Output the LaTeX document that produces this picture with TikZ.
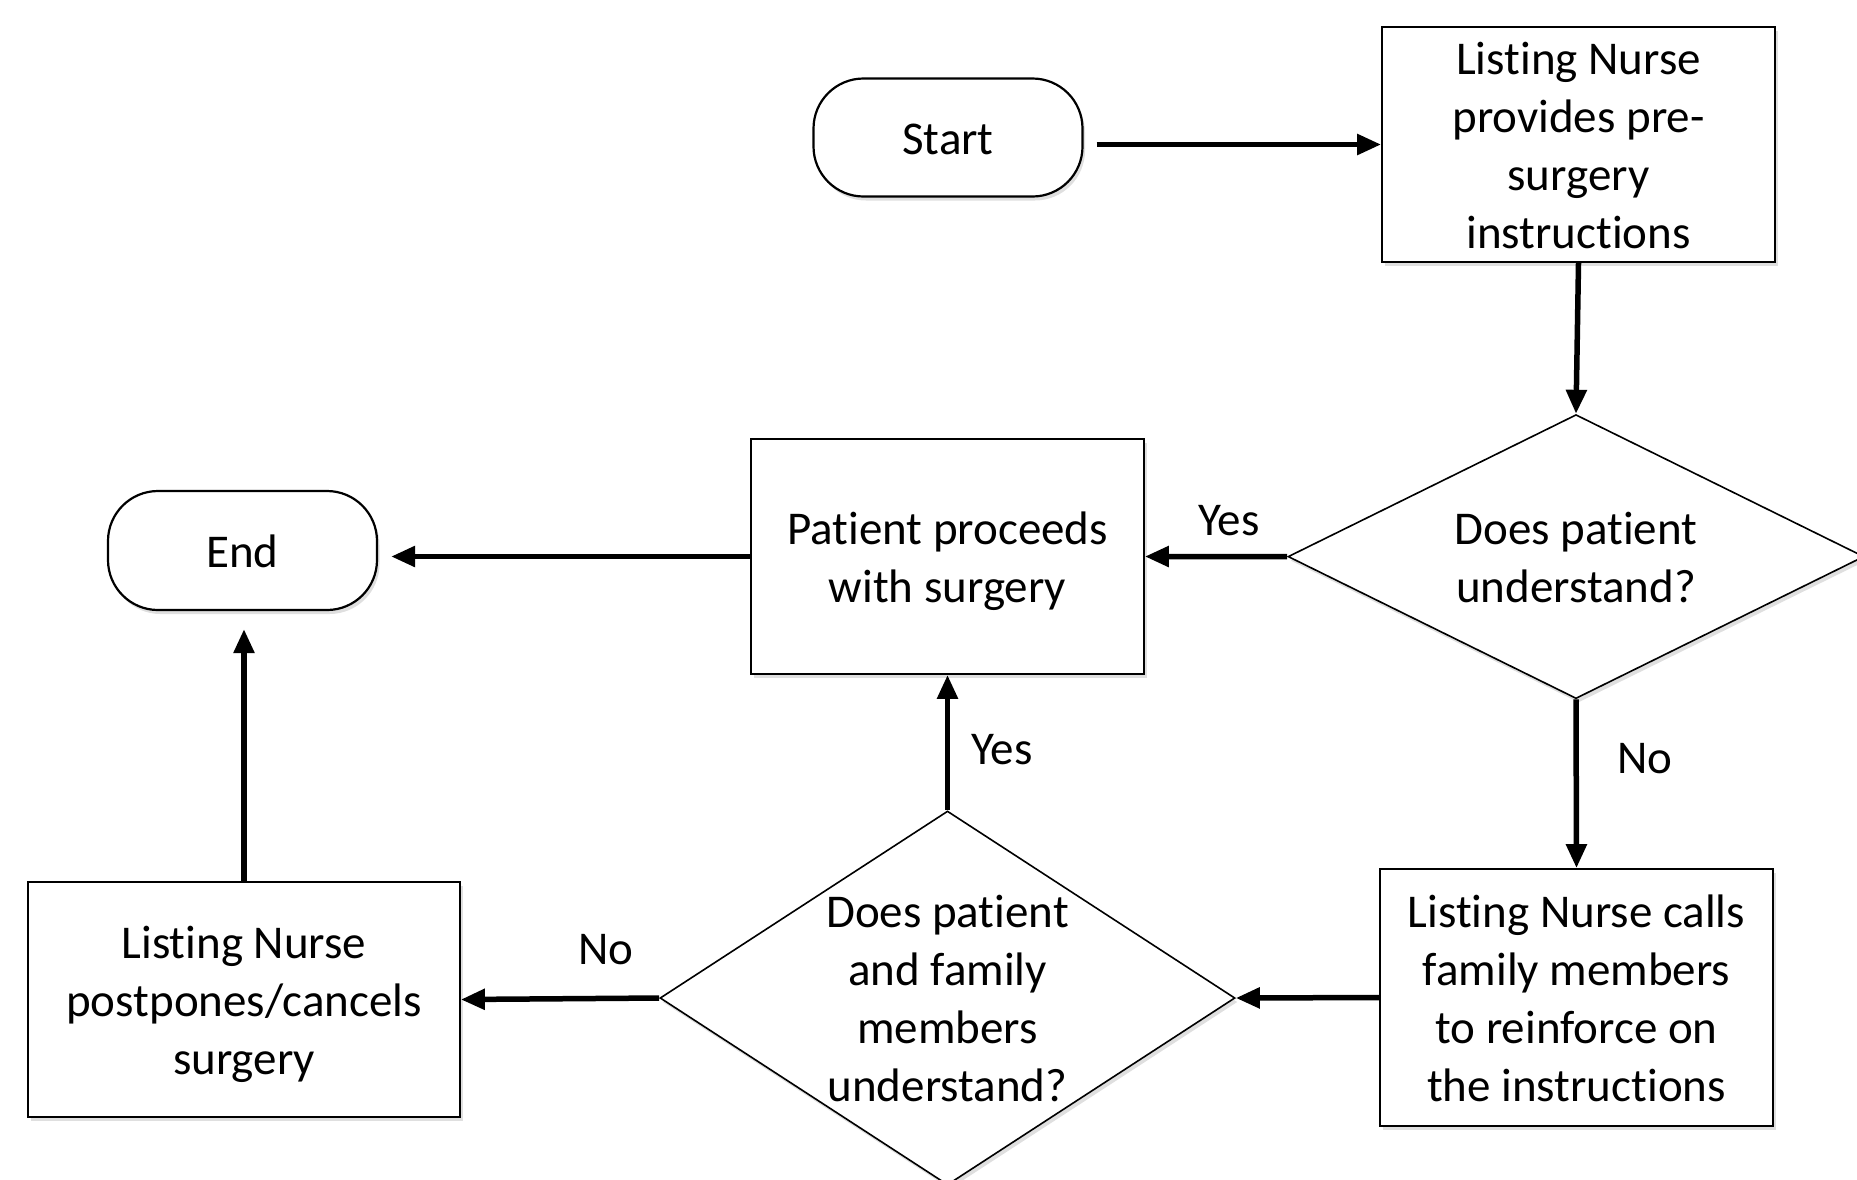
\documentclass[tikz,border=0pt]{standalone}
\usepackage{fontspec}
\setmainfont{Carlito}[Ligatures=NoCommon]
\usetikzlibrary{shapes.geometric,arrows.meta,shadows}
\newcommand\lstr{\rule[-12pt]{0pt}{57pt}}
\begin{document}
\begin{tikzpicture}[x=1pt,y=-1pt,
  font=\fontsize{47}{58}\selectfont,
  shd/.style={drop shadow={shadow xshift=2.5pt,shadow yshift=-4pt,opacity=0.25}},
  proc/.style={draw, line width=1.8pt, fill=white, align=center, inner sep=0pt, shd},
  term/.style={draw, line width=2.2pt, rounded corners=50pt, fill=white, inner sep=0pt, shd},
  dec/.style={draw, diamond, line width=1.6pt, fill=white, inner sep=0pt, align=center, shd},
  txt/.style={align=center, inner sep=0pt},
  arr/.style={line width=5.5pt, -{Triangle[length=24pt,width=20pt]}},
  lbl/.style={inner sep=0pt}
]
\useasboundingbox (0,0) rectangle (1857,1179);
\clip (0,0) rectangle (1857,1179);

\node[term, minimum width=269pt, minimum height=118pt] (start) at (948,137.5) {\lstr Start};
\node[proc, minimum width=393pt, minimum height=235pt] (b1) at (1578.5,144.5) {\lstr Listing Nurse\\provides pre-\\surgery\\instructions\lstr};
\node[dec, aspect=2, minimum width=576pt, minimum height=284pt] (d1) at (1576,556.6) {};
\node[txt] (d1t) at (d1.center) {\lstr Does patient\\understand?\lstr};
\node[proc, minimum width=393pt, minimum height=235pt] (p) at (947.5,556.5) {\lstr Patient proceeds\\with surgery\lstr};
\node[term, minimum width=269pt, minimum height=119pt] (end) at (242.5,550.5) {\lstr End};
\node[proc, minimum width=393pt, minimum height=257pt] (calls) at (1576.5,997.5) {\lstr Listing Nurse calls\\family members\\to reinforce on\\the instructions\lstr};
\node[dec, minimum width=575pt, minimum height=374pt] (d2) at (947.5,998) {};
\node[txt] (d2t) at (d2.center) {\lstr Does patient\\and family\\members\\understand?\lstr};
\node[proc, minimum width=432pt, minimum height=235pt] (pp) at (244,999.5) {\lstr Listing Nurse\\postpones/cancels\\surgery\lstr};

\coordinate (s1) at ([xshift=13pt]start.east);
\draw[arr] (s1 |- b1.west) -- (b1.west);
\draw[arr] (b1.south) -- (d1.north);
\draw[arr] (d1.west) -- (p.east) node[lbl, pos=0.41, yshift=36pt] {Yes};
\draw[arr] (d1.south) -- (calls.north) node[lbl, pos=0.35, xshift=69pt] {No};
\draw[arr] (calls.west) -- (d2.east);
\draw[arr] (d2.north) -- (p.south) node[lbl, pos=0.445, xshift=54.5pt] {Yes};
\draw[arr] (d2.west) -- (pp.east) node[lbl, pos=0.27, yshift=49pt] {No};
\draw[arr, shorten >=18pt] (pp.north) -- (pp.north |- end.south);
\draw[arr, shorten >=13pt] (p.west) -- (end.east |- p.west);
\end{tikzpicture}
\end{document}
